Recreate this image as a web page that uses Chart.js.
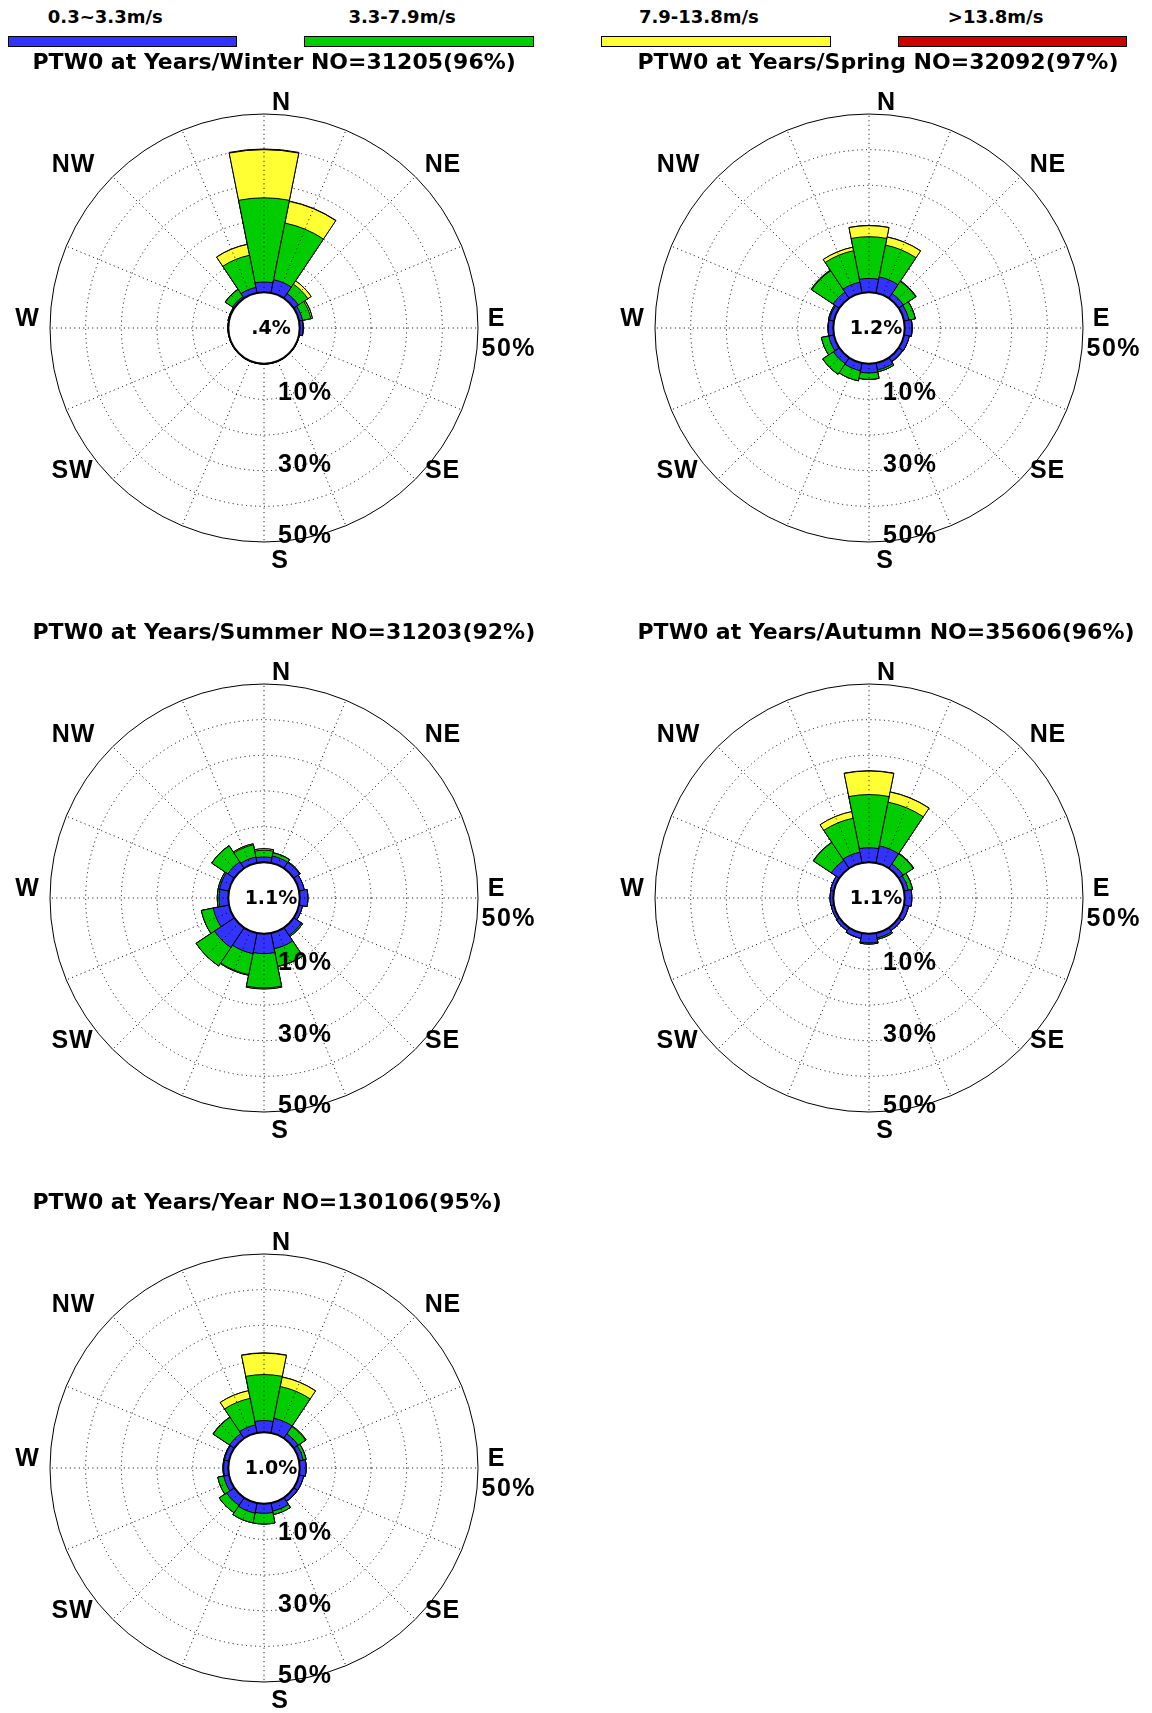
<!DOCTYPE html>
<html lang="en">
<head>
<meta charset="UTF-8">
<title>PTW0 wind roses</title>
<script src="https://cdn.jsdelivr.net/npm/chart.js"></script>
<style>
    body {
        margin: 0;
        background: #fff;
        overflow: hidden;
        font-family: "Liberation Sans", Arial, sans-serif;
    }
    #page {
        position: relative;
        width: 1152px;
        height: 1713px;
    }
    canvas {
        position: absolute;
    }
    .legend-bar {
        position: absolute;
        box-sizing: border-box;
        height: 11px;
        width: 229.5px;
        border: 1.5px solid #000;
    }
    .legend-label {
        position: absolute;
        font-family: "DejaVu Sans", sans-serif;
        font-weight: bold;
        font-size: 18px;
        line-height: 18px;
        white-space: nowrap;
        transform: translateX(-50%);
    }
</style>
</head>
<body>
<div id="page"></div>

<script>
    // 16 sectors, clockwise from north
    const directions = ['N', 'NNE', 'NE', 'ENE', 'E', 'ESE', 'SE', 'SSE', 'S', 'SSW', 'SW', 'WSW', 'W', 'WNW', 'NW', 'NNW'];
    const speedBins = ['0.3~3.3m/s', '3.3-7.9m/s', '7.9-13.8m/s', '>13.8m/s'];
    const binColors = ['#3333ff', '#00cc00', '#ffff33', '#cc0000'];

    const seasons = ['Winter', 'Spring', 'Summer', 'Autumn', 'Year'];
    const counts = [31205, 32092, 31203, 35606, 130106];
    const validPct = [96, 97, 92, 96, 95];
    const calms = [0.4, 1.2, 1.1, 1.1, 1.0];
    const ringLabels = [10, 30, 50];

    // frequency (%) per sector for each speed bin
    const winterBlue   = [2.9, 3.8, 1.6, 1.0, 0.9, 0.1, 0.1, 0.1, 0.1, 0.1, 0.1, 0.1, 0.1, 0.2, 0.6, 1.6];
    const winterGreen  = [23.6, 16.2, 3.2, 2.4, 0.1, 0, 0, 0, 0, 0, 0, 0, 0, 0.1, 2.4, 9.2];
    const winterYellow = [13.5, 6.2, 1.1, 0.4, 0, 0, 0, 0, 0, 0, 0, 0, 0, 0, 0.1, 3.1];
    const winterRed    = [0.2, 0.1, 0, 0.05, 0, 0, 0, 0, 0, 0, 0, 0, 0, 0, 0, 0.05];

    const springBlue   = [3.9, 4.6, 1.6, 1.4, 2.0, 1.5, 1.3, 2.0, 2.6, 2.2, 2.0, 1.5, 1.4, 1.3, 2.1, 3.1];
    const springGreen  = [11.7, 9.1, 4.1, 1.8, 0.1, 0, 0.1, 0.5, 1.8, 2.9, 3.6, 2.1, 0.1, 0.3, 7.2, 9.0];
    const springYellow = [3.1, 2.3, 0.2, 0.05, 0, 0, 0, 0, 0, 0, 0, 0, 0, 0, 0.2, 1.0];
    const springRed    = [0.05, 0.05, 0, 0, 0, 0, 0, 0, 0, 0, 0, 0, 0, 0, 0.05, 0];

    const summerBlue   = [1.5, 2.0, 2.0, 1.5, 2.3, 1.0, 2.6, 4.5, 5.6, 5.9, 6.7, 4.5, 2.6, 2.7, 2.2, 1.7];
    const summerGreen  = [1.9, 0.9, 0.2, 0, 0, 0, 0.4, 5.0, 9.6, 6.0, 6.2, 3.4, 0.5, 0.4, 5.4, 3.5];
    const summerYellow = [0.4, 0.05, 0, 0, 0, 0, 0, 0.1, 0.3, 0.2, 0, 0, 0, 0, 0.05, 0.3];
    const summerRed    = [0, 0, 0, 0, 0, 0, 0, 0, 0, 0, 0, 0, 0, 0, 0, 0];

    const autumnBlue   = [4.1, 4.9, 1.5, 1.2, 2.0, 1.3, 1.0, 1.4, 2.6, 1.5, 1.0, 0.8, 0.9, 1.0, 2.7, 3.1];
    const autumnGreen  = [14.9, 12.5, 3.4, 1.2, 0, 0, 0, 0.4, 0.3, 0.05, 0, 0, 0, 0, 6.0, 9.7];
    const autumnYellow = [6.6, 2.9, 0.2, 0.05, 0, 0, 0, 0, 0, 0, 0, 0, 0, 0, 0.1, 1.9];
    const autumnRed    = [0.1, 0.05, 0, 0, 0, 0, 0, 0, 0, 0, 0, 0, 0, 0, 0, 0];

    const yearBlue     = [3.3, 4.2, 1.5, 1.2, 1.8, 1.3, 1.2, 2.3, 2.7, 2.9, 2.6, 1.5, 1.3, 1.3, 1.6, 2.3];
    const yearGreen    = [12.9, 9.1, 2.5, 0.8, 0, 0, 0.1, 1.0, 3.0, 2.8, 2.5, 1.7, 0.2, 0.2, 5.5, 7.6];
    const yearYellow   = [6.0, 2.7, 0.2, 0.05, 0, 0, 0, 0, 0, 0, 0, 0, 0, 0, 0.1, 2.2];
    const yearRed      = [0.1, 0.05, 0, 0, 0, 0, 0, 0, 0, 0, 0, 0, 0, 0, 0, 0];

    const roseBins = [
        [winterBlue, winterGreen, winterYellow, winterRed],
        [springBlue, springGreen, springYellow, springRed],
        [summerBlue, summerGreen, summerYellow, summerRed],
        [autumnBlue, autumnGreen, autumnYellow, autumnRed],
        [yearBlue, yearGreen, yearYellow, yearRed]
    ];

    // layout
    const centers = [[264, 328], [869, 328], [264, 898], [869, 898], [264, 1468]];
    const canvasW = 545, canvasH = 560, localX = 264, localY = 290;
    const compassOffsets = {
        N: [17, -225], NE: [178.5, -162.5], E: [232, -9], SE: [178, 143],
        S: [15.5, 233], SW: [-192, 143], W: [-237, -9], NW: [-191, -162.5]
    };
    const sansFont = '"Liberation Sans", Arial, sans-serif';
    const wideFont = '"DejaVu Sans", sans-serif';

    const page = document.getElementById('page');

    // legend row: coloured bars with the speed range above
    speedBins.forEach((bin, i) => {
        const left = 7.5 + i * 296.8;
        const bar = document.createElement('div');
        bar.className = 'legend-bar';
        bar.style.left = left + 'px';
        bar.style.top = '36px';
        bar.style.background = binColors[i];
        page.appendChild(bar);

        const lab = document.createElement('div');
        lab.className = 'legend-label';
        lab.textContent = bin;
        lab.style.left = (left + 229.5 / 2 - 17) + 'px';
        lab.style.top = '8px';
        page.appendChild(lab);
    });

    function drawText(ctx, text, x, y, font, size, spacing, align) {
        ctx.font = 'bold ' + size + 'px ' + font;
        ctx.letterSpacing = spacing + 'px';
        ctx.textAlign = align || 'center';
        ctx.textBaseline = 'middle';
        ctx.fillStyle = '#000';
        ctx.fillText(text, align === 'left' ? x : x + spacing / 2, y);
    }

    function calmText(v) {
        const s = v.toFixed(1);
        return (v < 1 ? s.replace(/^0/, '') : s) + '%';
    }

    // spokes, calm circle and all text of one rose
    const roseDecor = {
        id: 'roseDecor',
        afterDraw(chart) {
            const ctx = chart.ctx;
            const r = chart.scales.r;
            const cx = r.xCenter, cy = r.yCenter, R = r.drawingArea;
            const hole = r.getDistanceFromCenterForValue(0);
            const k = chart.options.roseIndex;

            ctx.save();
            ctx.strokeStyle = '#000';
            ctx.lineWidth = 1;
            ctx.setLineDash([1, 3.5]);
            directions.forEach((d, i) => {
                const a = i * 2 * Math.PI / directions.length;
                ctx.beginPath();
                ctx.moveTo(cx + hole * Math.sin(a), cy - hole * Math.cos(a));
                ctx.lineTo(cx + R * Math.sin(a), cy - R * Math.cos(a));
                ctx.stroke();
            });

            ctx.setLineDash([]);
            ctx.beginPath();
            ctx.arc(cx, cy, hole, 0, 2 * Math.PI);
            ctx.fillStyle = '#fff';
            ctx.fill();
            ctx.lineWidth = 2;
            ctx.strokeStyle = '#000';
            ctx.stroke();

            drawText(ctx, calmText(calms[k]), cx + 7, cy + 1, wideFont, 19, 0);

            Object.keys(compassOffsets).forEach(name => {
                const [dx, dy] = compassOffsets[name];
                drawText(ctx, name, cx + dx, cy + dy, sansFont, 25, 0.8);
            });

            ringLabels.forEach(v => {
                const y = cy + r.getDistanceFromCenterForValue(v) - 6;
                drawText(ctx, v + '%', cx + 40.5, y, sansFont, 25, 1.5);
            });
            drawText(ctx, ringLabels[ringLabels.length - 1] + '%', cx + R + 30, cy + 21, sansFont, 25, 1.5);

            const title = 'PTW0 at Years/' + seasons[k] + ' NO=' + counts[k] + '(' + validPct[k] + '%)';
            drawText(ctx, title, cx - 231.5, cy - 265, wideFont, 22, 0, 'left');
            ctx.restore();
        }
    };

    roseBins.forEach((bins, k) => {
        const canvas = document.createElement('canvas');
        canvas.width = canvasW;
        canvas.height = canvasH;
        canvas.style.left = (centers[k][0] - localX) + 'px';
        canvas.style.top = (centers[k][1] - localY) + 'px';
        page.appendChild(canvas);

        // stack speed bins outward; the slowest bin is drawn on top
        let run = directions.map(() => 0);
        const datasets = bins.map((b, i) => {
            run = run.map((v, j) => v + b[j]);
            return {
                label: speedBins[i],
                data: run.slice(),
                backgroundColor: binColors[i],
                borderColor: '#000',
                borderWidth: 1
            };
        });

        new Chart(canvas, {
            type: 'polarArea',
            data: { labels: directions, datasets: datasets },
            options: {
                roseIndex: k,
                responsive: false,
                animation: false,
                layout: { padding: { left: localX - 214, right: canvasW - localX - 214, top: localY - 214, bottom: canvasH - localY - 214 } },
                plugins: {
                    legend: { display: false },
                    tooltip: { enabled: false },
                    title: { display: false }
                },
                scales: {
                    r: {
                        min: -10,
                        max: 50,
                        startAngle: -11.25,
                        z: 1,
                        ticks: { display: false, stepSize: 10 },
                        angleLines: { display: false },
                        pointLabels: { display: false },
                        grid: {
                            circular: true,
                            lineWidth: 1,
                            color: '#000'
                        },
                        border: {
                            dash: c => c.tick && c.tick.value === 50 ? [] : [1, 3.5]
                        }
                    }
                }
            },
            plugins: [roseDecor]
        });
    });
</script>
</body>
</html>
